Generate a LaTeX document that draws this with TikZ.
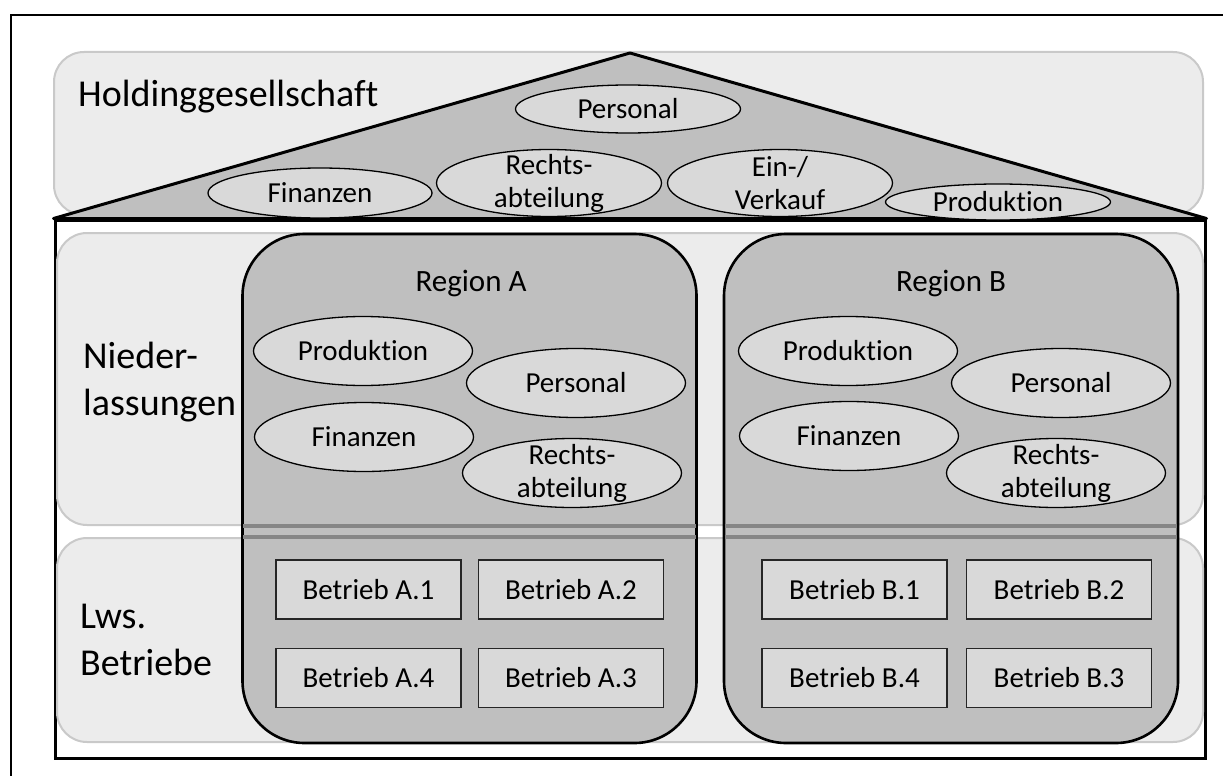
\documentclass[tikz,border=0pt]{standalone}
\usepackage{fontspec}
\setmainfont{Carlito}[Ligatures=NoCommon]
\usetikzlibrary{positioning,shapes.geometric}
\definecolor{bandfill}{HTML}{ECECEC}
\definecolor{bandline}{HTML}{C9C9C9}
\definecolor{roofgray}{HTML}{BFBFBF}
\definecolor{unitgray}{HTML}{D9D9D9}
\definecolor{divgray}{HTML}{868686}

\begin{document}
\begin{tikzpicture}[
  x=1pt, y=-1pt,
  band/.style={draw=bandline, line width=2pt, fill=bandfill, rounded corners=30pt, minimum width=1146pt, inner sep=0pt},
  region/.style={draw, line width=2.6pt, fill=roofgray, rounded corners=62pt, minimum width=454pt, minimum height=509pt, inner sep=0pt},
  unit/.style={ellipse, draw, line width=1.3pt, fill=unitgray, minimum width=219pt, minimum height=69pt, inner sep=0pt},
  farm/.style={draw=black!85, line width=1.5pt, fill=unitgray, minimum width=185pt, minimum height=59pt, inner sep=0pt, font=\fontsize{29}{33}\selectfont},
  layer/.style={font=\fontsize{38}{47}\selectfont, align=left, inner sep=0pt},
  regtitle/.style={font=\fontsize{31}{36}\selectfont, inner sep=0pt},
  every label/.style={align=center, inner sep=0pt, font=\fontsize{29}{33}\selectfont},
  divider/.style={draw=divgray, line width=3.5pt, shorten <=2pt, shorten >=2pt}
]
\useasboundingbox (0,0) rectangle (1223,776);
\draw[line width=2.5pt] (1223,15) -- (11,15) -- (11,776);

% holding band, house and roof
\node[band, minimum width=1149pt, minimum height=163pt] (holding) at (628.5,133.5) {};
\node[draw, line width=3pt, fill=white, minimum width=1150pt, minimum height=538pt, inner sep=0pt] (house) at (630,489) {};
\draw[line width=3pt, fill=roofgray, line join=round] (house.north west) -- (630,53) -- (house.north east) -- cycle;

% layers
\node[band, minimum height=292pt] (nieder) at (630,379) {};
\node[band, minimum height=204pt] (lws) at (630,640) {};

% regions
\node[region] (regA) at (469.5,488.5) {};
\node[region] (regB) at (951,488.5) {};
\draw[divider] (regA.west |- nieder.south) -- (regA.east |- nieder.south);
\draw[divider] (regA.west |- lws.north) -- (regA.east |- lws.north);
\draw[divider] (regB.west |- nieder.south) -- (regB.east |- nieder.south);
\draw[divider] (regB.west |- lws.north) -- (regB.east |- lws.north);

\node[layer, anchor=base west] (holdlbl) at (78,106) {Holdinggesellschaft};
\node[layer, anchor=base west] (niedlbl) at (83,415) {Nieder-\\lassungen};
\node[layer, anchor=base west] (lwslbl) at (80,675) {Lws.\\Betriebe};

% holding units
\node[unit, minimum width=225pt, minimum height=48pt, label=center:Personal] (hPers) at (628,109) {};
\node[unit, minimum width=224pt, minimum height=50pt, label=center:Finanzen] (hFin) at (320,193) {};
\node[unit, minimum width=225pt, minimum height=67pt, label={center:Rechts-\\abteilung}] (hRecht) at (549,183) {};
\node[unit, minimum width=225pt, minimum height=67pt, label={center:Ein-/\\Verkauf}] (hEin) at (780,183) {};
\node[unit, minimum width=225pt, minimum height=36pt, label=center:Produktion] (hProd) at (998,202) {};

% region A
\node[regtitle, anchor=base] (titleA) at (471,291) {Region A};
\node[unit, label=center:Produktion] (aProd) at (363,351) {};
\node[unit, label=center:Personal] (aPers) at (576,383) {};
\node[unit, label=center:Finanzen] (aFin) at (364,437) {};
\node[unit, label={center:Rechts-\\abteilung}] (aRecht) at (572,473) {};
\node[farm] (a1) at (368.5,589.5) {Betrieb A.1};
\node[farm, right=16pt of a1] (a2) {Betrieb A.2};
\node[farm, below=28pt of a1] (a4) {Betrieb A.4};
\node[farm, below=28pt of a2] (a3) {Betrieb A.3};

% region B
\node[regtitle, anchor=base] (titleB) at (951,291) {Region B};
\node[unit, label=center:Produktion] (bProd) at (848,351) {};
\node[unit, label=center:Personal] (bPers) at (1061,383) {};
\node[unit, label=center:Finanzen] (bFin) at (849,436) {};
\node[unit, label={center:Rechts-\\abteilung}] (bRecht) at (1056,473) {};
\node[farm] (b1) at (854.5,589.5) {Betrieb B.1};
\node[farm, right=18pt of b1] (b2) {Betrieb B.2};
\node[farm, below=28pt of b1] (b4) {Betrieb B.4};
\node[farm, below=28pt of b2] (b3) {Betrieb B.3};
\end{tikzpicture}
\end{document}
